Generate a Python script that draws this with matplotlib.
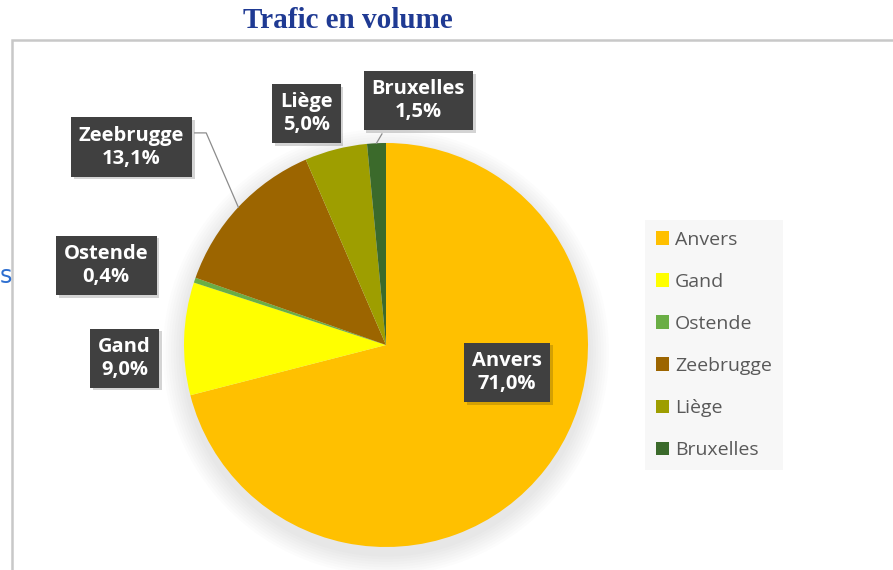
import matplotlib.pyplot as plt
from matplotlib.patches import Rectangle
import matplotlib.patheffects as pe
import numpy as np

# data
ports = ["Anvers", "Gand", "Ostende", "Zeebrugge", "Liège", "Bruxelles"]
shares = [71.0, 9.0, 0.4, 13.1, 5.0, 1.5]
colors = ["#FFC000", "#FFFF00", "#6AAE45", "#9C6500", "#9E9E00", "#3B6A2B"]

# label box centres in pie units (centre = 0,0, radius = 1)
label_pos = [(0.60, -0.135), (-1.295, -0.065), (-1.385, 0.395),
             (-1.26, 0.98), (-0.395, 1.145), (0.16, 1.21)]

W, H = 893, 570
fig = plt.figure(figsize=(W / 100, H / 100), dpi=100)

# outer chart frame
fig.add_artist(Rectangle((12 / W, -0.1), 1.2, (H - 40) / H + 0.1,
                         transform=fig.transFigure, fill=False,
                         edgecolor="#c8c8c8", linewidth=1.8))

fig.text(348 / W, 1 - 21 / H, "Trafic en volume", ha="center", va="center",
         fontsize=21, fontweight="bold", color="#1F3A93",
         family="Liberation Serif")
fig.text(0.0, 1 - 276 / H, "s", ha="left", va="center", fontsize=17,
         color="#2E6FD0", family="DejaVu Sans")

cx, cy, r = 386, 345, 202
ax = fig.add_axes([(cx - r) / W, (H - cy - r) / H, 2 * r / W, 2 * r / H])

# soft shadow under the pie
for k in range(8):
    ax.add_patch(plt.Circle((0.0, -0.035), 1.0 + 0.013 * (8 - k),
                            color="black", alpha=0.011, zorder=0, lw=0,
                            clip_on=False))

wedges, _ = ax.pie(shares, colors=colors, startangle=90, counterclock=False,
                   radius=1.0, wedgeprops=dict(linewidth=0))
ax.set_xlim(-1, 1)
ax.set_ylim(-1, 1)
ax.set_aspect("equal")
ax.axis("off")

for i, (name, val) in enumerate(zip(ports, shares)):
    txt = f"{name}\n{val:.1f}%".replace(".", ",")
    t = ax.text(label_pos[i][0], label_pos[i][1], txt, ha="center",
                va="center", fontsize=14.5, fontweight="bold", color="white",
                family="Open Sans", linespacing=1.2, zorder=5, clip_on=False,
                bbox=dict(boxstyle="square,pad=0.4", facecolor="#404040",
                          edgecolor="none"))
    t.get_bbox_patch().set_path_effects(
        [pe.SimplePatchShadow(offset=(2, -2), alpha=0.18), pe.Normal()])

# leader lines
ang = 90 - 360 * (np.cumsum(shares) - np.array(shares) / 2) / 100
zi = ports.index("Zeebrugge")
ex, ey = np.cos(np.radians(ang[zi])), np.sin(np.radians(ang[zi]))
ax.plot([-0.946, -0.89, ex], [1.05, 1.05, ey], color="#8c8c8c", lw=0.9,
        zorder=4, clip_on=False)
bi = ports.index("Bruxelles")
ex, ey = np.cos(np.radians(ang[bi])), np.sin(np.radians(ang[bi]))
ax.plot([-0.02, ex], [1.045, ey], color="#8c8c8c", lw=0.9, zorder=4,
        clip_on=False)

leg = fig.legend(wedges, ports, loc="upper left",
                 bbox_to_anchor=(645 / W, 1 - 220 / H), frameon=True,
                 facecolor="#f6f6f6", edgecolor="none", fancybox=False,
                 labelspacing=1.24, handlelength=0.7, borderaxespad=0,
                 handleheight=0.7, handletextpad=0.3, borderpad=0.55,
                 prop=dict(family="Open Sans", size=14))
for t in leg.get_texts():
    t.set_color("#595959")

fig.savefig("out.png", dpi=100)
